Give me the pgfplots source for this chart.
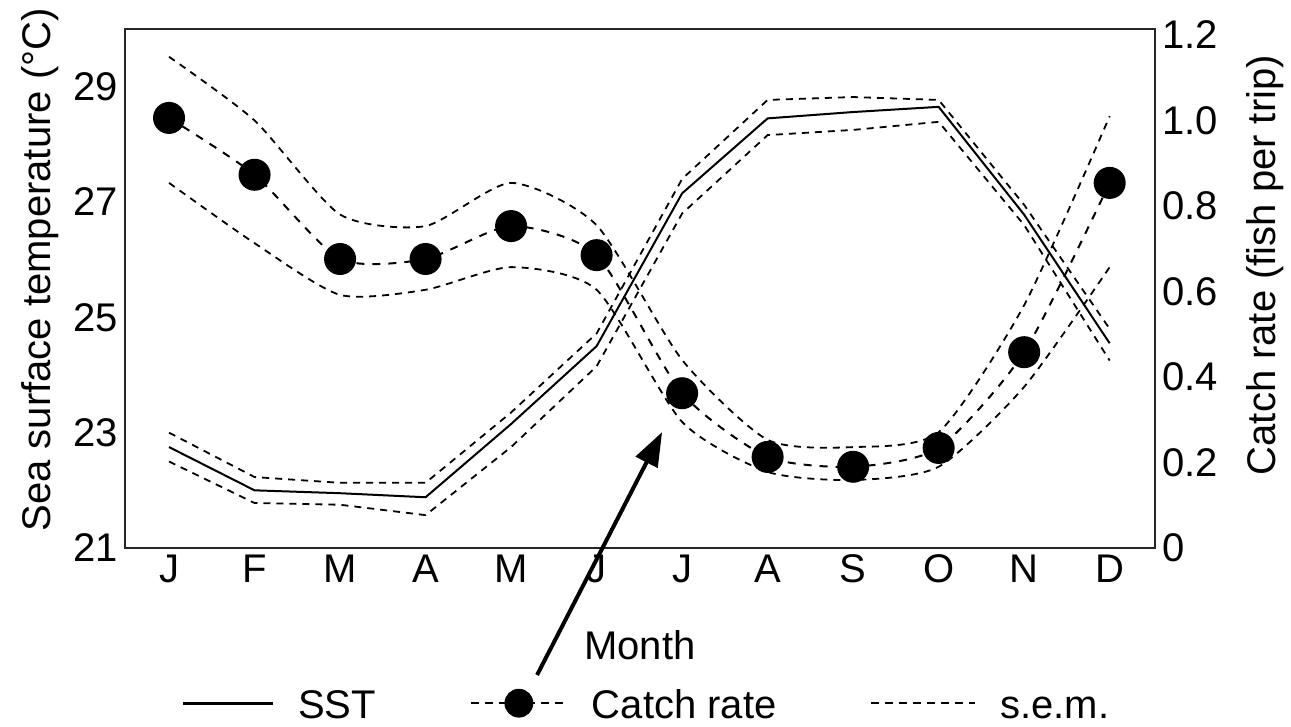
\documentclass[border=0pt]{standalone}
\usepackage{pgfplots}
\pgfplotsset{compat=1.18}
\usepackage{pgfplotstable}
\usepackage{fontspec}
\setmainfont{Liberation Sans}
\usetikzlibrary{arrows.meta}

\pgfplotstableread{
m sst up lo
0 22.75 23.00 22.50
1 22.00 22.23 21.78
2 21.95 22.13 21.75
3 21.88 22.13 21.57
4 23.15 23.35 22.75
5 24.50 24.72 24.15
6 27.15 27.40 26.80
7 28.45 28.77 28.16
8 28.56 28.82 28.25
9 28.65 28.77 28.39
10 26.78 26.95 26.60
11 24.55 24.80 24.25
}\ssttable

\pgfplotstableread{
m c up lo
0 1.006 1.149 0.854
1 0.873 1.000 0.713
2 0.676 0.780 0.592
3 0.676 0.753 0.604
4 0.753 0.854 0.657
5 0.685 0.755 0.604
6 0.362 0.440 0.295
7 0.213 0.253 0.178
8 0.190 0.236 0.159
9 0.234 0.271 0.190
10 0.458 0.568 0.377
11 0.854 1.010 0.657
}\catchtable

\pgfplotsset{
  base/.style={
    width=515pt, height=259.5pt, scale only axis,
    xmin=-0.515, xmax=11.53,
    major tick length=0pt, minor tick length=0pt,
    tick label style={font=\fontsize{20}{24}\selectfont},
    label style={font=\fontsize{20}{24}\selectfont},
    axis line style={line width=1pt, black!85},
  },
  semstyle/.style={black, line width=0.9pt, dash pattern=on 3.5pt off 3pt},
}

\begin{document}
\begin{tikzpicture}
\path[use as bounding box] (-62.5pt,-89.5pt) rectangle (583pt,274pt);
\begin{axis}[base,
  ymin=21, ymax=30,
  ytick={21,23,25,27,29}, yticklabels={21,23,25,27,29},
  ytick pos=left,
  xtick={0,1,2,3,4,5,6,7,8,9,10,11},
  xticklabels={J,F,M,A,M,J,J,A,S,O,N,D},
  xtick pos=bottom,
  xlabel={Month},
  xlabel style={at={(axis description cs:0.5,-0.187)}, anchor=center},
  ylabel={Sea surface temperature (°C)},
  ylabel style={at={(axis description cs:-0.0825,0.536)}, anchor=center},
]
\addplot[black, line width=1pt] table[x=m,y=sst]{\ssttable};
\addplot[semstyle] table[x=m,y=up]{\ssttable};
\addplot[semstyle] table[x=m,y=lo]{\ssttable};
\end{axis}
\begin{axis}[base,
  ymin=0, ymax=1.214,
  axis y line*=right, hide x axis,
  ytick={0,0.2,0.4,0.6,0.8,1.0,1.2},
  yticklabels={0,0.2,0.4,0.6,0.8,1.0,1.2},
  ylabel={Catch rate (fish per trip)},
  ylabel style={at={(axis description cs:1.107,0.545)}, anchor=center},
  clip=false,
  legend style={at={(axis description cs:0.507,-0.299)}, anchor=center,
    draw=none, fill=none, font=\fontsize{20}{24}\selectfont,
    /tikz/every odd column/.append style={column sep=10pt},
    /tikz/every even column/.append style={column sep=45pt}},
  legend columns=3,
  legend cell align=left,
]
\addplot[semstyle, smooth, tension=0.4, forget plot] table[x=m,y=up]{\catchtable};
\addplot[semstyle, smooth, tension=0.4, forget plot] table[x=m,y=lo]{\catchtable};
\addplot[black, line width=1pt, dash pattern=on 4pt off 4pt, smooth, tension=0.4,
  mark=*, mark size=7.5pt, mark options={solid, fill=black}, forget plot]
  table[x=m,y=c]{\catchtable};
\addlegendimage{legend image code/.code={\draw[black, line width=1.5pt] (0pt,0pt) -- (45pt,0pt);}}
\addlegendentry{\strut SST}
\addlegendimage{legend image code/.code={\draw[black, line width=1pt, dash pattern=on 4pt off 3pt] (0pt,0pt) -- (48pt,0pt); \fill[black] (24pt,0pt) circle (7pt);}}
\addlegendentry{\strut Catch rate}
\addlegendimage{legend image code/.code={\draw[black, line width=1pt, dash pattern=on 4pt off 3pt] (0pt,0pt) -- (52pt,0pt);}}
\addlegendentry{\strut s.e.m.}
\draw[black, line width=2pt, -{Triangle[length=17pt,width=12pt]}]
  (axis cs:4.304,-0.297) -- (axis cs:5.766,0.271);
\end{axis}
\end{tikzpicture}
\end{document}
